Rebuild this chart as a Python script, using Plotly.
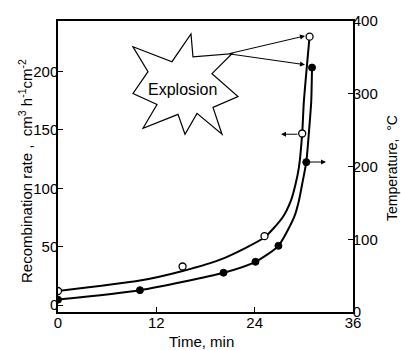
import plotly.graph_objects as go

# ---- data ----
# open circles: recombination rate (left axis)
rate_t = [0, 15.2, 25.2, 29.8, 30.7]
rate_v = [12, 33, 59, 147, 230]
# smooth curve through the recombination rate points
rate_curve_t = [0, 10, 15.1, 20.2, 25.2, 27.4, 28.4, 29.0, 29.4, 29.8, 30.0, 30.7]
rate_curve_v = [12, 21, 29, 40, 58, 75, 89, 104, 118, 147, 174, 230]

# filled circles: temperature (right axis)
temp_t = [0, 10, 20.2, 24.1, 26.9, 30.3, 31.0]
temp_v = [17, 30, 54, 69, 91, 206, 336]
temp_curve_t = [0, 10, 20.2, 24.1, 26.9, 28.8, 29.4, 29.8, 30.3, 30.6, 30.9, 31.0]
temp_curve_v = [17, 30, 54, 69, 91, 130, 153, 176, 206, 244, 289, 336]

x_ticks = [0, 12, 24, 36]
left_ticks = [0, 50, 100, 150, 200]
right_ticks = [0, 100, 200, 300, 400]

FONT = "Liberation Sans, Arial, sans-serif"

# plot area in pixels
L, R, T, B = 58, 353, 19, 312
W, H = 401, 350

def paper(xp, yp):
    return (xp - L) / (R - L), (B - yp) / (B - T)

fig = go.Figure()

fig.add_trace(go.Scatter(x=rate_curve_t, y=rate_curve_v, mode="lines",
                         line=dict(color="black", width=2, shape="spline", smoothing=0.6),
                         hoverinfo="skip", showlegend=False))
fig.add_trace(go.Scatter(x=temp_curve_t, y=temp_curve_v, mode="lines", yaxis="y2",
                         line=dict(color="black", width=2, shape="spline", smoothing=0.6),
                         hoverinfo="skip", showlegend=False))
fig.add_trace(go.Scatter(x=rate_t, y=rate_v, mode="markers",
                         marker=dict(symbol="circle", size=7, color="white",
                                     line=dict(color="black", width=1.3)),
                         showlegend=False))
fig.add_trace(go.Scatter(x=temp_t, y=temp_v, mode="markers", yaxis="y2",
                         marker=dict(symbol="circle", size=7, color="black",
                                     line=dict(color="black", width=1)),
                         showlegend=False))

# explosion star (decoration, pixel outline converted to paper coordinates)
star_px = [(133, 45), (172, 60), (191, 32), (193, 55), (232, 52), (212, 72),
           (238, 95), (213, 106), (222, 133), (197, 112), (185, 133), (178, 113),
           (143, 127), (157, 103), (133, 92), (148, 70)]
pts = [paper(*p) for p in star_px]
path = "M " + " L ".join(f"{x:.4f},{y:.4f}" for x, y in pts) + " Z"
fig.add_shape(type="path", path=path, xref="paper", yref="paper",
              line=dict(color="black", width=1.2), fillcolor="white", layer="above")

ann = []
ex, ey = paper(182, 88)
ann.append(dict(x=ex, y=ey, xref="paper", yref="paper", text="Explosion", showarrow=False,
                xanchor="center", yanchor="middle",
                font=dict(size=16, family=FONT, color="black")))

def arrow(tail, head):
    hx, hy = paper(*head)
    return dict(x=hx, y=hy, ax=tail[0] - head[0], ay=tail[1] - head[1],
                xref="paper", yref="paper", axref="pixel", ayref="pixel",
                text="", showarrow=True,
                arrowhead=2, arrowsize=1, arrowwidth=1, arrowcolor="black")

ann.append(arrow((228, 52), (305, 34)))
ann.append(arrow((228, 52), (305, 63)))
ann.append(arrow((299, 133), (281, 133)))
ann.append(arrow((308, 161), (326, 161)))

# axis titles
lx, ly = paper(26, 170)
ann.append(dict(x=lx, y=ly, xref="paper", yref="paper", textangle=-90, showarrow=False,
                xanchor="center", yanchor="middle",
                text="Recombination rate ,  cm<sup>3</sup> h<sup>-1</sup>cm<sup>-2</sup>",
                font=dict(size=15, family=FONT, color="black")))
rx, ry = paper(392, 167)
ann.append(dict(x=rx, y=ry, xref="paper", yref="paper", textangle=-90, showarrow=False,
                xanchor="center", yanchor="middle",
                text="Temperature,  °C", font=dict(size=14, family=FONT, color="black")))
tx_, ty_ = paper(201, 342)
ann.append(dict(x=tx_, y=ty_, xref="paper", yref="paper", showarrow=False,
                xanchor="center", yanchor="middle",
                text="Time, min", font=dict(size=15, family=FONT, color="black")))

axis_common = dict(showgrid=False, zeroline=False, showline=True, linecolor="black",
                   linewidth=1.5, ticks="inside", ticklen=5, tickwidth=1.2,
                   tickcolor="black", tickfont=dict(size=15, family=FONT, color="black"))

fig.update_layout(
    width=W, height=H,
    margin=dict(l=L, r=W - R, t=T, b=H - B, pad=0),
    paper_bgcolor="white", plot_bgcolor="white",
    xaxis=dict(range=[0, 36], tickvals=x_ticks, mirror=True, ticklabelstandoff=-4,
               **axis_common),
    yaxis=dict(range=[-6, 243.4], tickvals=left_ticks, ticklabelstandoff=-5,
               **axis_common),
    yaxis2=dict(range=[0, 400], tickvals=right_ticks, overlaying="y", side="right",
                ticklabelstandoff=-5, **axis_common),
    annotations=ann,
    showlegend=False,
)

fig.write_html("out.html")
